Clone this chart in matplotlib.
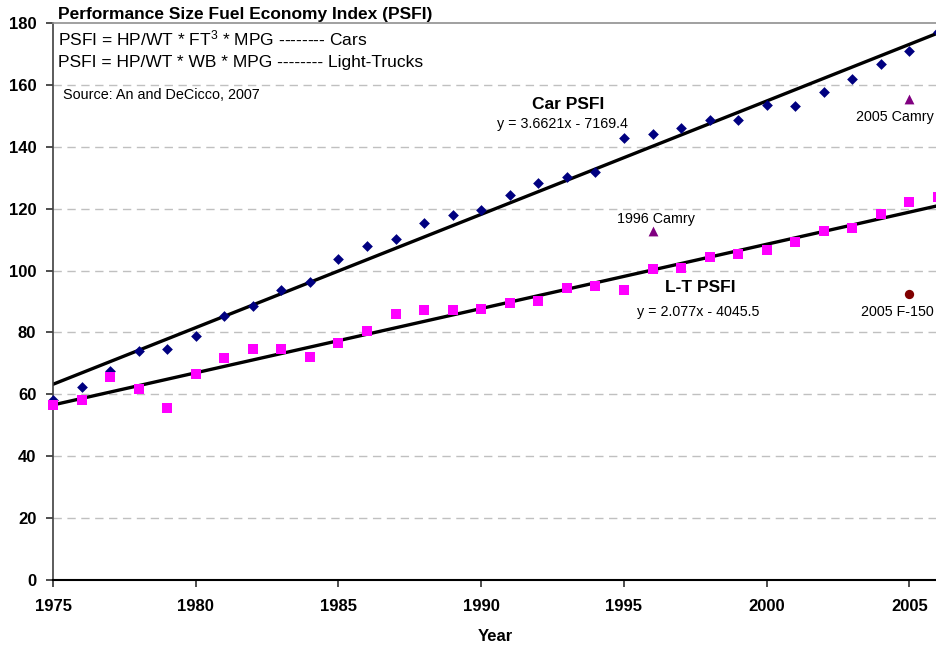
import matplotlib
matplotlib.use("Agg")
import matplotlib.pyplot as plt
import numpy as np

plt.rcParams['font.family'] = ['Liberation Sans', 'DejaVu Sans']
plt.rcParams['mathtext.fontset'] = 'custom'
plt.rcParams['mathtext.rm'] = 'Liberation Sans'
plt.rcParams['mathtext.it'] = 'Liberation Sans'
plt.rcParams['mathtext.default'] = 'regular'

years = list(range(1975, 2007))
car_psfi = [58.2, 62.4, 67.7, 74.1, 74.6, 78.9, 85.4, 88.7, 93.7, 96.4,
            103.7, 107.8, 110.3, 115.3, 118.0, 119.7, 124.3, 128.4, 130.3, 131.8,
            142.9, 144.0, 146.2, 148.8, 148.7, 153.5, 153.3, 157.8, 161.8, 166.7,
            170.8, 177.2]
lt_psfi = [56.6, 58.1, 65.6, 61.8, 55.5, 66.7, 71.9, 74.6, 74.6, 72.2,
           76.5, 80.6, 86.1, 87.2, 87.4, 87.5, 89.6, 90.3, 94.5, 95.0,
           93.6, 100.6, 100.8, 104.5, 105.4, 106.6, 109.1, 112.8, 113.7, 118.2,
           122.1, 123.7]

# linear trend coefficients (slope, intercept)
car_trend = (3.6621, -7169.4)
lt_trend = (2.077, -4045.5)

camry_1996 = (1996, 112.9)
camry_2005 = (2005, 155.4)
f150_2005 = (2005, 92.4)

x_min, x_max = 1975, 2005.93
y_ticks = [0, 20, 40, 60, 80, 100, 120, 140, 160, 180]
x_ticks = [1975, 1980, 1985, 1990, 1995, 2000, 2005]

fig = plt.figure(figsize=(9.36, 6.45), dpi=100)
ax = fig.add_axes([53 / 936, 65 / 645, 1 - 53 / 936, (580 - 23) / 645])
ax.set_xlim(x_min, x_max)
ax.set_ylim(0, 180)

# grid
for yv in y_ticks[1:-1]:
    ax.axhline(yv, color='#c0c0c0', lw=1.0, ls=(0, (6, 4)), zorder=0)

# trend lines
xt = np.array([x_min, 2006.5])
ax.plot(xt, car_trend[0] * xt + car_trend[1], color='black', lw=2.4, zorder=2)
ax.plot(xt, lt_trend[0] * xt + lt_trend[1], color='black', lw=2.4, zorder=2)

# data points
ax.scatter(years, car_psfi, marker='D', s=30, color='#000080', zorder=3,
           linewidths=0, clip_on=False)
ax.scatter(years, lt_psfi, marker='s', s=50, color='#ff00ff', zorder=3,
           linewidths=0, clip_on=False)
ax.scatter([camry_1996[0], camry_2005[0]], [camry_1996[1], camry_2005[1]],
           marker='^', s=50, color='#800080', zorder=3, linewidths=0)
ax.scatter([f150_2005[0]], [f150_2005[1]], marker='o', s=45, color='#800000',
           zorder=3, linewidths=0)

# spines and ticks
ax.spines['top'].set_color('#909090')
ax.spines['top'].set_linewidth(1.2)
ax.spines['right'].set_visible(False)
ax.spines['left'].set_color('#404040')
ax.spines['left'].set_linewidth(1.2)
ax.spines['bottom'].set_color('black')
ax.spines['bottom'].set_linewidth(1.5)
ax.set_yticks(y_ticks)
ax.set_xticks(x_ticks)
ax.set_yticklabels([str(v) for v in y_ticks], fontsize=12, fontweight='bold')
ax.set_xticklabels([str(v) for v in x_ticks], fontsize=12, fontweight='bold')
ax.tick_params(axis='both', direction='out', length=5, width=1.2, color='#303030')
ax.tick_params(axis='y', pad=7)
ax.tick_params(axis='x', pad=9)
ax.set_xlabel('Year', fontsize=12, fontweight='bold')
ax.xaxis.set_label_coords((495.7 - 53) / (936 - 53), -0.088)

# text blocks
fig.text(58 / 936, 1 - 14 / 645, 'Performance Size Fuel Economy Index (PSFI)',
         fontsize=12.5, fontweight='bold', va='center', ha='left')
ax.text(5 / 883, (580 - 45) / 557, 'PSFI = HP/WT * FT$^{3}$ * MPG -------- Cars',
        transform=ax.transAxes, fontsize=12.5, va='baseline', ha='left')
ax.text(5 / 883, (580 - 67) / 557, 'PSFI = HP/WT * WB * MPG -------- Light-Trucks',
        transform=ax.transAxes, fontsize=12.5, va='baseline', ha='left')
ax.text(0.011, 1 - 72 / 557, 'Source: An and DeCicco, 2007',
        transform=ax.transAxes, fontsize=10.4, va='center', ha='left')

def fmt_eq(coef):
    slope, icpt = coef
    sign = '-' if icpt < 0 else '+'
    return f'y = {slope:g}x {sign} {abs(icpt):g}'

ax.text(1993.03, 153.8, 'Car PSFI', fontsize=12.5, fontweight='bold', ha='center', va='center')
ax.text(1992.83, 147.5, fmt_eq(car_trend), fontsize=10.3, ha='center', va='center')
ax.text(1997.66, 94.4, 'L-T PSFI', fontsize=12.5, fontweight='bold', ha='center', va='center')
ax.text(1997.59, 86.7, fmt_eq(lt_trend), fontsize=10.3, ha='center', va='center')
ax.text(1996.11, 116.8, '1996 Camry', fontsize=10.3, ha='center', va='center')
ax.text(2004.49, 149.6, '2005 Camry', fontsize=10.3, ha='center', va='center')
ax.text(2004.59, 86.6, '2005 F-150', fontsize=10.3, ha='center', va='center')

fig.savefig('out.png', dpi=100)
